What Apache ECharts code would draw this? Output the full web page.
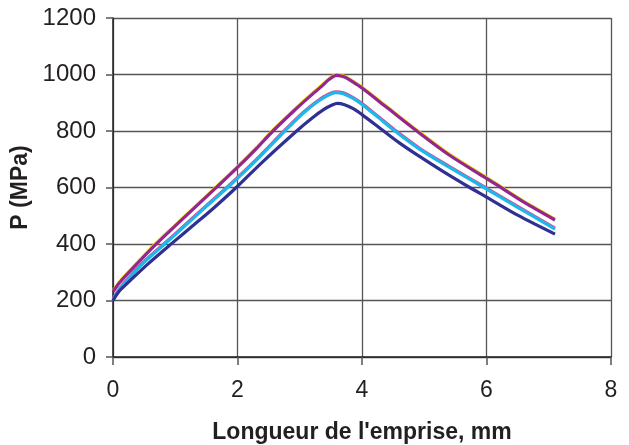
<!DOCTYPE html>
<html>
<head>
<meta charset="utf-8">
<script src="https://cdn.jsdelivr.net/npm/echarts@6/dist/echarts.min.js"></script>
<style>html,body{margin:0;padding:0;background:#fff}#c{width:629px;height:445px}</style>
</head>
<body>
<div id="c"></div>
<script>
// x positions (mm) and pressure values (MPa)
const purpleX = [0, 0.1, 0.24, 0.45, 0.68, 1.0, 1.3, 1.67, 2.0, 2.3, 2.57, 2.9, 3.15, 3.35, 3.47, 3.59, 3.72, 3.85, 4.0, 4.4, 4.88, 5.4, 6.0, 6.16, 6.6, 7.1];
const purpleP = [231, 262, 296, 345, 397, 464, 526, 602, 671, 737, 800, 870, 920, 958, 982, 997, 991, 974, 952, 883, 800, 715, 632, 610, 548, 485];
const yellowP = purpleP.map(v => v + 3);

const cyanX = [0, 0.1, 0.24, 0.5, 0.83, 1.2, 1.5, 1.88, 2.3, 2.76, 3.05, 3.3, 3.47, 3.58, 3.7, 3.85, 4.0, 4.25, 4.53, 4.93, 5.4, 5.96, 6.5, 7.1];
const cyanP = [202, 238, 275, 335, 400, 473, 533, 608, 696, 800, 862, 906, 928, 936, 932, 916, 894, 850, 800, 735, 672, 600, 530, 453];
const pinkP = cyanP.map(v => v + 3);

const blueX = [0, 0.1, 0.24, 0.55, 0.95, 1.3, 1.6, 1.98, 2.4, 2.95, 3.2, 3.4, 3.52, 3.6, 3.72, 3.86, 4.0, 4.3, 4.6, 4.93, 5.3, 5.73, 6.0, 6.5, 7.1];
const blueP = [200, 233, 263, 327, 403, 468, 524, 600, 690, 800, 846, 878, 892, 898, 893, 879, 858, 808, 758, 709, 657, 600, 566, 502, 435];

const xTicks = [0, 2, 4, 6, 8];
const yTicks = [0, 200, 400, 600, 800, 1000, 1200];

const zip = (xs, ys) => xs.map((x, i) => [x, ys[i]]);

const font = '"Liberation Sans", Arial, sans-serif';
const chart = echarts.init(document.getElementById('c'), null, {renderer: 'canvas'});

function line(name, xs, ys, color, w) {
  return {
    name, type: 'line', data: zip(xs, ys), smooth: 0.3, showSymbol: false,
    lineStyle: {color, width: w}, itemStyle: {color}, animation: false
  };
}

chart.setOption({
  animation: false,
  grid: {left: 113, right: 18, top: 18, bottom: 88, containLabel: false, outerBoundsMode: 'none'},
  xAxis: {
    type: 'value', min: xTicks[0], max: xTicks[xTicks.length - 1], interval: 2,
    name: "Longueur de l'emprise, mm", nameLocation: 'middle', nameGap: 64,
    nameTextStyle: {fontFamily: font, fontSize: 23, fontWeight: 'bold', color: '#231f20'},
    axisLine: {show: true, onZero: false, lineStyle: {color: '#231f20', width: 1.5}},
    axisTick: {show: true, length: 8, lineStyle: {color: '#555', width: 1.5}},
    axisLabel: {margin: 22, fontFamily: font, fontSize: 23, color: '#231f20',
      formatter: v => String(v)},
    splitLine: {show: true, lineStyle: {color: '#555', width: 1.3}}
  },
  yAxis: {
    type: 'value', min: yTicks[0], max: yTicks[yTicks.length - 1], interval: 200,
    name: 'P (MPa)', nameLocation: 'middle', nameGap: 68, nameRotate: 90,
    nameTextStyle: {fontFamily: font, fontSize: 23, fontWeight: 'bold', color: '#231f20'},
    axisLine: {show: true, lineStyle: {color: '#231f20', width: 1.5}},
    axisTick: {show: true, length: 7, lineStyle: {color: '#555', width: 1.5}},
    axisLabel: {margin: 17, fontFamily: font, fontSize: 24, color: '#231f20',
      formatter: v => String(v)},
    splitLine: {show: true, lineStyle: {color: '#555', width: 1.3}}
  },
  series: [
    line('jaune', purpleX, yellowP, '#f2d500', 3.2),
    line('violet', purpleX, purpleP, '#93278f', 3.2),
    line('rose', cyanX, pinkP, '#e4409a', 3.2),
    line('cyan', cyanX, cyanP, '#1db8ea', 3.2),
    line('bleu', blueX, blueP, '#2e3192', 3.2)
  ]
});
</script>
</body>
</html>
